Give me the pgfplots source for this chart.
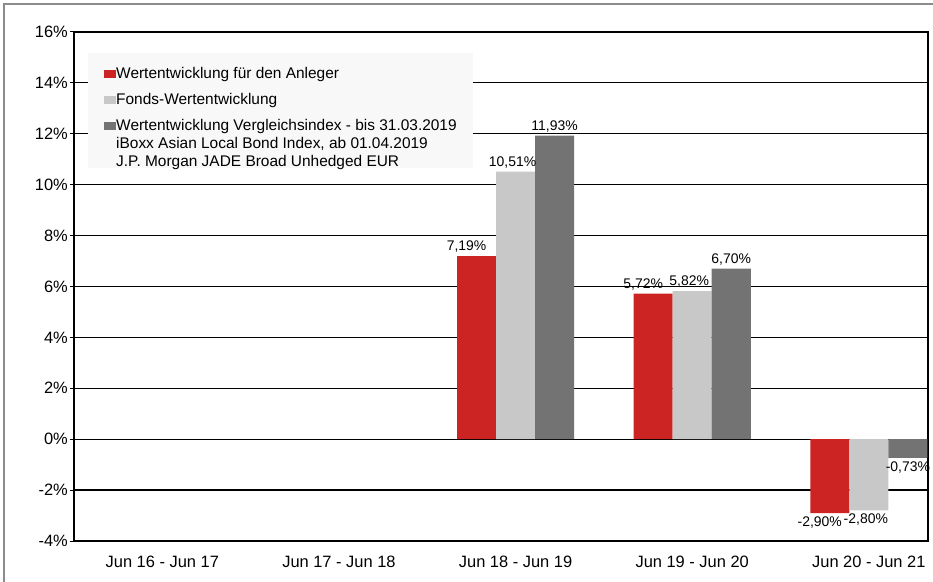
\documentclass[border=0pt]{standalone}
\usepackage{pgfplots}
\pgfplotsset{compat=1.18}
\usepackage{fontspec}
\setmainfont{Liberation Sans}

\definecolor{anleger}{RGB}{204,35,35}
\definecolor{fonds}{RGB}{200,200,200}
\definecolor{vglindex}{RGB}{115,115,115}
\definecolor{rahmen}{RGB}{140,140,140}
\definecolor{legbg}{RGB}{248,248,248}

\begin{document}
\begin{tikzpicture}
\useasboundingbox (-74bp,-41bp) rectangle (859bp,541bp);
\draw[rahmen, line width=2bp] (-70bp,-41bp) -- (-70bp,537bp) -- (859bp,537bp);
\begin{axis}[
    scale only axis,
    width=854bp, height=509bp,
    xmin=-0.5, xmax=4.335,
    ymin=-4, ymax=16,
    ybar,
    bar width=0.221,
    ytick={-4,-2,...,16},
    yticklabel={\pgfmathprintnumber[assume math mode=true]{\tick}\%},
    xtick={0,1,2,3,4},
    xticklabels={Jun 16 - Jun 17, Jun 17 - Jun 18, Jun 18 - Jun 19, Jun 19 - Jun 20, Jun 20 - Jun 21},
    xtick style={draw=none},
    ytick pos=left,
    tick align=outside,
    major tick length=4bp,
    ytick style={black, line width=1bp},
    yticklabel style={inner xsep=2bp},
    xticklabel style={yshift=-8bp},
    ticklabel style={font=\fontsize{16.5}{19}\selectfont},
    axis line style={black, line width=1.6bp},
    ymajorgrids,
    grid style={black, line width=1.2bp},
    clip=false,
    nodes near coords={\pgfmathprintnumber[fixed,fixed zerofill,precision=2,use comma,assume math mode=true]{\pgfplotspointmeta}\%},
    every node near coord/.append style={font=\fontsize{14}{16}\selectfont, black},
    legend style={
        at={(0.0164,0.9587)}, anchor=north west,
        fill=legbg, draw=none,
        inner xsep=16bp, inner ysep=14bp,
        row sep=12bp,
        font=\fontsize{15.5}{18}\selectfont,
        nodes={inner sep=0pt, text height=11bp, text depth=3bp},
        cells={anchor=base west},
    },
    legend image code/.code={
        \path (0bp,0bp) rectangle (12bp,8bp);
        \fill[#1, draw=none] (0bp,0bp) rectangle (8bp,8bp);
    },
]
\addplot[fill=anleger, draw=none, bar shift=-0.221,
    every node near coord/.append style={xshift=-10bp}]
    coordinates {(2,7.19) (3,5.72) (4,-2.90)};
\addlegendentry{Wertentwicklung für den Anleger}
\addplot[fill=fonds, draw=none, bar shift=0,
    every node near coord/.append style={xshift=-3bp}]
    coordinates {(2,10.51) (3,5.82) (4,-2.80)};
\addlegendentry{Fonds-Wertentwicklung}
\addplot[fill=vglindex, draw=none, bar shift=0.221]
    coordinates {(2,11.93) (3,6.70) (4,-0.73)};
\addlegendentry[text depth=24bp]{\begin{tabular}[t]{@{}l@{}}Wertentwicklung Vergleichsindex - bis 31.03.2019\\iBoxx Asian Local Bond Index, ab 01.04.2019\\J.P. Morgan JADE Broad Unhedged EUR\end{tabular}}
\end{axis}
\end{tikzpicture}
\end{document}
